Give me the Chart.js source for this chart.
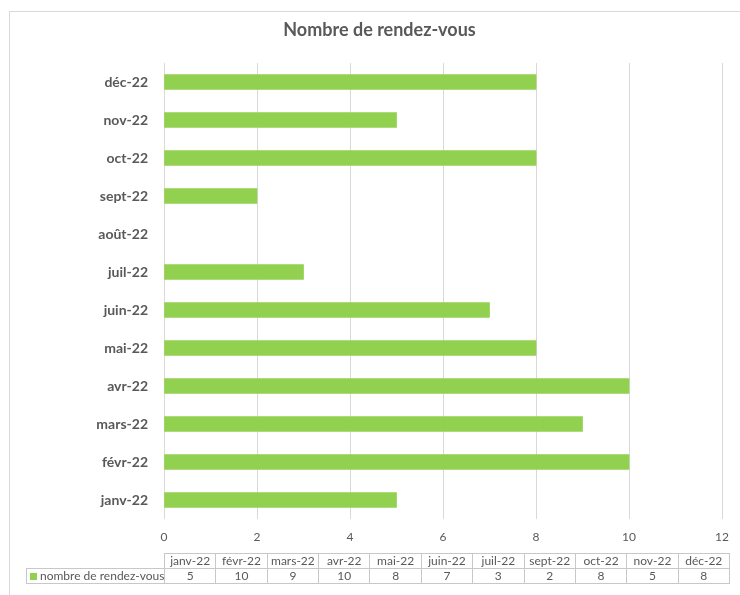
<!DOCTYPE html>
<html><head><meta charset="utf-8">
<script src="https://cdn.jsdelivr.net/npm/chart.js@4/dist/chart.umd.min.js"></script>
<style>
html,body{margin:0;padding:0;background:#fff;width:740px;height:595px;overflow:hidden;font-family:Lato,"Liberation Sans",sans-serif;}
#frame{position:absolute;left:9px;top:11px;width:740px;height:600px;border-top:1.5px solid #d9d9d9;border-left:1.5px solid #d9d9d9;}
#wrap{position:absolute;left:10px;top:12px;width:730px;height:560px;}
#tbl{position:absolute;border-collapse:collapse;font-size:12px;color:#595959;table-layout:fixed;}
#tbl td{border:1px solid #c8c8c8;text-align:center;padding:0;height:14px;line-height:14px;white-space:nowrap;overflow:hidden;}
#tbl td.blank{border:none;}
#tbl td.leg{text-align:left;padding-left:3px;}
.sw{display:inline-block;width:7px;height:7px;background:#92D050;margin-right:3px;vertical-align:0px;}
</style></head><body>
<div id="frame"></div>
<div id="wrap"><canvas id="c"></canvas></div>
<table id="tbl"></table>
<script>
const months = ["janv-22","févr-22","mars-22","avr-22","mai-22","juin-22","juil-22","août-22","sept-22","oct-22","nov-22","déc-22"];
const rdv = [5,10,9,10,8,7,3,null,2,8,5,8];
const xTicks = [0,2,4,6,8,10,12];
const seriesName = "nombre de rendez-vous";
const chartTitle = "Nombre de rendez-vous";

const gray = "#595959";
const chart = new Chart(document.getElementById('c'), {
  type: 'bar',
  data: { labels: months, datasets: [{ label: seriesName, data: rdv, backgroundColor: '#92D050', barThickness: 15 }] },
  options: {
    indexAxis: 'y', responsive: true, maintainAspectRatio: false, animation: false,
    layout: { padding: { left: 25, right: 16, top: 0, bottom: 23 } },
    plugins: {
      legend: { display: false }, tooltip: { enabled: false },
      title: { display: true, text: chartTitle, color: gray, font: { family: 'Lato', size: 18, weight: 'bold' }, padding: { top: 7, bottom: 22.4 } }
    },
    scales: {
      x: { min: 0, max: 12, afterBuildTicks: s => { s.ticks = xTicks.map(v => ({ value: v })); },
        grid: { color: '#d9d9d9', drawTicks: false }, border: { display: false },
        ticks: { color: gray, padding: 11, font: { family: 'Lato', size: 12 } },
        afterFit: s => { s.height = 30; } },
      y: { reverse: true, grid: { display: false, drawTicks: false }, border: { display: false },
        ticks: { color: gray, padding: 16, font: { family: 'Lato', size: 14, weight: 'bold' } },
        afterFit: s => { s.width = 129; } }
    }
  }
});

// data table below the chart
const tbl = document.getElementById('tbl');
const cols = months.map((m, i) => ({ m, v: rdv[i] })).filter(c => c.v !== null);
const area = chart.chartArea;
const left = 10 + area.left, right = 10 + area.right + 7;
const colW = (right - left) / cols.length;
tbl.style.left = (26) + 'px';
tbl.style.top = '553px';
let cg = '<colgroup><col style="width:' + (left - 26) + 'px">' + cols.map(() => '<col style="width:' + colW + 'px">').join('') + '</colgroup>';
let r1 = '<tr><td class="blank"></td>' + cols.map(c => '<td>' + c.m + '</td>').join('') + '</tr>';
let r2 = '<tr><td class="leg"><span class="sw"></span>' + seriesName + '</td>' + cols.map(c => '<td>' + c.v + '</td>').join('') + '</tr>';
tbl.style.width = (right - 26) + 'px';
tbl.innerHTML = cg + r1 + r2;
</script>
</body></html>
